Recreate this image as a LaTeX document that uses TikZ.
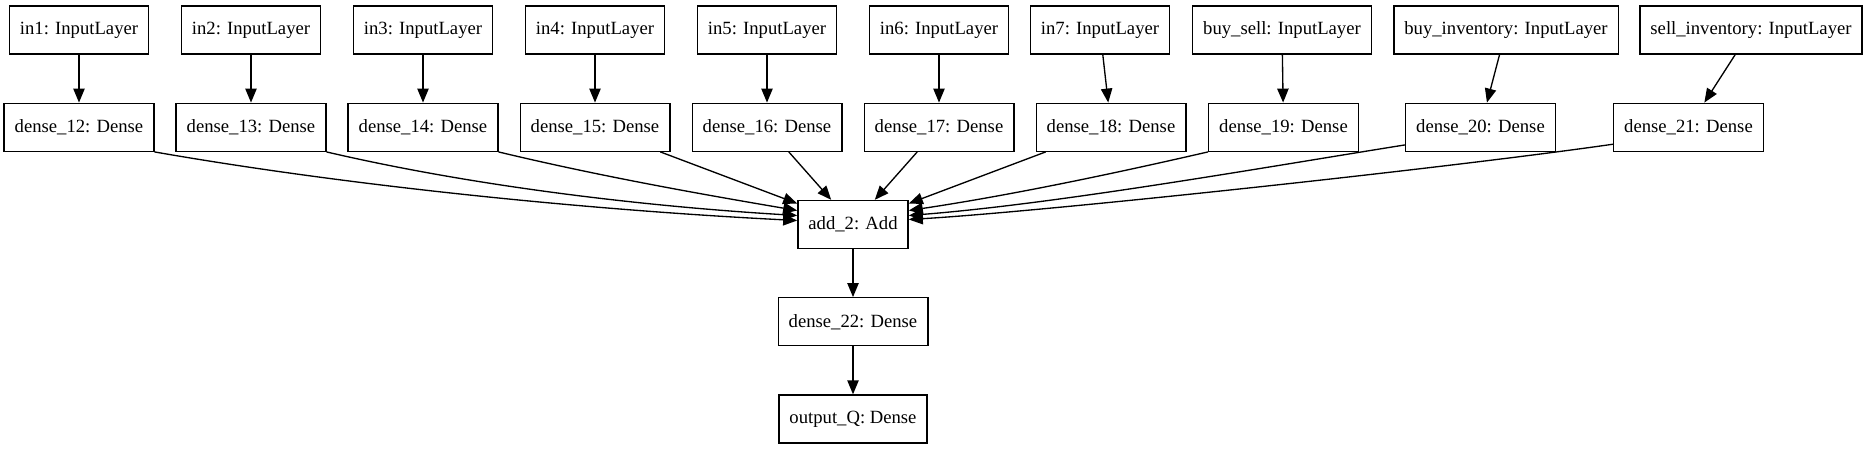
\documentclass[tikz,border=0pt]{standalone}
\usepackage{fontspec}
\setmainfont{Liberation Serif}
\usetikzlibrary{arrows.meta,calc}
\begin{document}
\begin{tikzpicture}[x=0.75pt,y=-0.75pt,
  layer/.style={draw=black,line width=1pt,rectangle,minimum height=36pt,
    inner xsep=7.92pt,inner ysep=0pt,font=\fontsize{14pt}{16pt}\selectfont},
  edge/.style={draw=black,line width=1pt,-{Triangle[length=10.5pt,width=8.5pt]}}]
\useasboundingbox (0,0) rectangle (1867,449);
% row 1: inputs
\node[layer] (i1)  at (79,30)    {in1: InputLayer};
\node[layer] (i2)  at (251,30)   {in2: InputLayer};
\node[layer] (i3)  at (423,30)   {in3: InputLayer};
\node[layer] (i4)  at (595,30)   {in4: InputLayer};
\node[layer] (i5)  at (767,30)   {in5: InputLayer};
\node[layer] (i6)  at (939,30)   {in6: InputLayer};
\node[layer] (i7)  at (1100,30)  {in7: InputLayer};
\node[layer] (ibs) at (1282,30)  {buy\_sell: InputLayer};
\node[layer] (ibi) at (1506,30)  {buy\_inventory: InputLayer};
\node[layer] (isi) at (1751,30)  {sell\_inventory: InputLayer};
% row 2: dense
\node[layer] (d12) at (79,127.25)   {dense\_12: Dense};
\node[layer] (d13) at (251,127.25)  {dense\_13: Dense};
\node[layer] (d14) at (423,127.25)  {dense\_14: Dense};
\node[layer] (d15) at (595,127.25)  {dense\_15: Dense};
\node[layer] (d16) at (767,127.25)  {dense\_16: Dense};
\node[layer] (d17) at (939,127.25)  {dense\_17: Dense};
\node[layer] (d18) at (1111,127.25) {dense\_18: Dense};
\node[layer] (d19) at (1283.5,127.25) {dense\_19: Dense};
\node[layer] (d20) at (1480.5,127.25) {dense\_20: Dense};
\node[layer] (d21) at (1688.5,127.25) {dense\_21: Dense};
% lower chain
\node[layer] (add)  at (853,224.5) {add\_2: Add};
\node[layer] (d22)  at (853,321.75) {dense\_22: Dense};
\node[layer] (outq) at (853,419)   {output\_Q: Dense};
% input -> dense
\draw[edge] (i1) -- (d12);
\draw[edge] (i2) -- (d13);
\draw[edge] (i3) -- (d14);
\draw[edge] (i4) -- (d15);
\draw[edge] (i5) -- (d16);
\draw[edge] (i6) -- (d17);
\draw[edge] (i7) -- (d18);
\draw[edge] (ibs) -- (d19);
\draw[edge] (ibi) -- (d20);
\draw[edge] (isi) -- (d21);
% dense -> add
\draw[edge] (d12.south east) .. controls +(200,35) and +(-200,-10) .. ($(add.west)+(0,-4)$);
\draw[edge] (d13.south east) .. controls +(150,35) and +(-150,-9) .. ($(add.west)+(0,-9)$);
\draw[edge] (d14.south east) .. controls +(100,24) and +(-100,-17) .. ($(add.west)+(0,-14)$);
\draw[edge] (d15) -- (add);
\draw[edge] (d16) -- (add);
\draw[edge] (d17) -- (add);
\draw[edge] (d18) -- (add);
\draw[edge] (d19.south west) .. controls +(-100,23) and +(100,-15) .. ($(add.east)+(0,-14)$);
\draw[edge] ($(d20.south west)+(0,-7)$) .. controls +(-150,24) and +(150,-12) .. ($(add.east)+(0,-9)$);
\draw[edge] ($(d21.south west)+(0,-7.7)$) .. controls +(-170,24.4) and +(135,-8) .. ($(add.east)+(0,-5)$);
% chain
\draw[edge] (add) -- (d22);
\draw[edge] (d22) -- (outq);
\end{tikzpicture}
\end{document}
